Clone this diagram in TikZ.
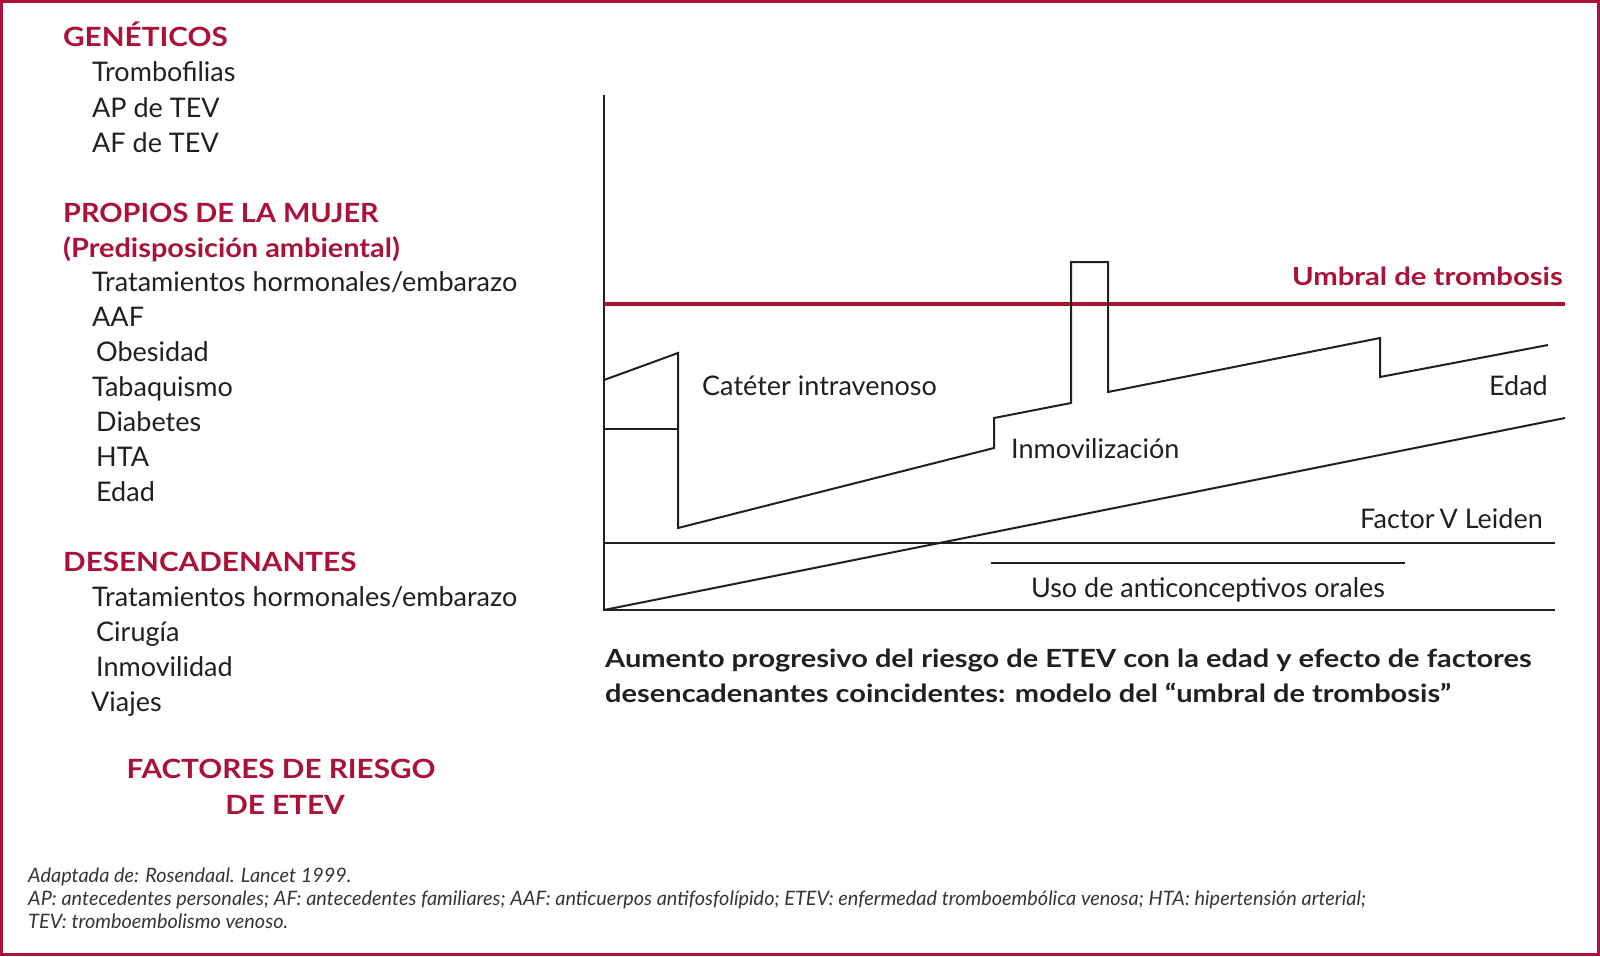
\documentclass[tikz,border=0pt]{standalone}
\usepackage{fontspec}
\setmainfont{Lato}
\newfontfamily\headfam{Lato}[FakeStretch=1.12]
\newfontfamily\headfamb{Lato}[FakeStretch=1.09]
\newfontfamily\umbfam{Lato}[FakeStretch=1.17]
\newfontfamily\capfam{Lato}[FakeStretch=1.16]
\definecolor{crim}{RGB}{170,18,58}
\definecolor{ink}{RGB}{35,31,32}
\definecolor{footink}{RGB}{55,52,53}
\newcommand\myitemfont{\fontsize{27}{32}\selectfont}
\newcommand\myheadfont{\headfam\fontsize{26.5}{32}\selectfont\bfseries}
\newcommand\myheadfontb{\headfamb\fontsize{26.5}{32}\selectfont\bfseries}
\newcommand\mycapfont{\capfam\fontsize{25}{30}\selectfont\bfseries}
\newcommand\myfootfont{\fontsize{19.9}{23}\selectfont\itshape}
\tikzset{
  item/.style={anchor=base west, inner sep=0pt, font=\myitemfont, text=ink},
  head/.style={anchor=base west, inner sep=0pt, font=\myheadfont, text=crim},
  headb/.style={anchor=base west, inner sep=0pt, font=\myheadfontb, text=crim},
  title/.style={anchor=base, inner sep=0pt, font=\myheadfont, text=crim},
  caption/.style={anchor=base west, inner sep=0pt, font=\mycapfont, text=ink},
  foot/.style={anchor=base west, inner sep=0pt, font=\myfootfont, text=footink},
  curve/.style={draw=ink, line width=2pt, line join=miter},
  thresh/.style={draw=crim, line width=3.2pt},
  frame/.style={draw=crim, line width=3.3pt}
}
\begin{document}
\begin{tikzpicture}[x=1pt,y=-1pt]
\useasboundingbox (0,0) rectangle (1600,956);
\draw[frame] (1.7,1.7) rectangle (1598.3,954.3);

% left column
\node[head] (gen) at (63,46) {GENÉTICOS};
\node[item] (g1) at (92,81) {Trombofilias};
\node[item] (g2) at (92,117) {AP de TEV};
\node[item] (g3) at (92,152) {AF de TEV};

\node[headb] (prop) at (63,222) {PROPIOS DE LA MUJER};
\node[headb] (prop2) at (63,257) {(Predisposición ambiental)};
\node[item] (p1) at (92,291) {Tratamientos hormonales/embarazo};
\node[item] (p2) at (92,326) {AAF};
\node[item] (p3) at (96,361) {Obesidad};
\node[item] (p4) at (92,396) {Tabaquismo};
\node[item] (p5) at (96,431) {Diabetes};
\node[item] (p6) at (96,466) {HTA};
\node[item] (p7) at (96,501) {Edad};

\node[head] (des) at (63,571) {DESENCADENANTES};
\node[item] (d1) at (92,606) {Tratamientos hormonales/embarazo};
\node[item] (d2) at (96,641) {Cirugía};
\node[item] (d3) at (96,676) {Inmovilidad};
\node[item] (d4) at (91,711) {Viajes};

\node[title] (fac1) at (281,778) {FACTORES DE RIESGO};
\node[title] (fac2) at (285,814) {DE ETEV};

% chart
\coordinate (top) at (604,95);
\coordinate (orig) at (604,610);
\coordinate (xend) at (1555,610);
\draw[curve] (top) -- (orig) -- (xend);

\coordinate (t0) at (604,304);
\coordinate (t1) at (1565,304);
\draw[thresh] (t0) -- (t1);

\coordinate (fv0) at (604,543);
\coordinate (fv1) at (1555,543);
\draw[curve] (fv0) -- (fv1);

\coordinate (oc0) at (991,563);
\coordinate (oc1) at (1405,563);
\draw[curve] (oc0) -- (oc1);

\coordinate (age1) at (1565,418);
\draw[curve] (orig) -- (age1);

\coordinate (c0) at (604,380);
\coordinate (c1) at (678,353);
\coordinate (c2) at (678,528);
\coordinate (c3) at (994,448);
\coordinate (c4) at (994,418);
\coordinate (c5) at (1071,403);
\coordinate (c6) at (1071,262);
\coordinate (c7) at (1108,262);
\coordinate (c8) at (1108,392);
\coordinate (c9) at (1380,338);
\coordinate (c10) at (1380,377);
\coordinate (c11) at (1548,345);
\draw[curve] (c0) -- (c1) -- (c2) -- (c3) -- (c4) -- (c5) -- (c6) -- (c7) -- (c8) -- (c9) -- (c10) -- (c11);
\coordinate (ch0) at (604,429);
\coordinate (ch1) at (678,429);
\draw[curve] (ch0) -- (ch1);

\node[anchor=base east, inner sep=0pt, font=\umbfam\fontsize{25}{30}\selectfont\bfseries, text=crim] (umb) at (1563,285) {Umbral de trombosis};
\node[item] (cat) at (702,395) {Catéter intravenoso};
\node[item] (inm) at (1011,458) {Inmovilización};
\node[item, anchor=base east] (edad) at (1548,395) {Edad};
\node[item, anchor=base east] (fvl) at (1543,528) {Factor\kern-2pt\ V Leiden};
\node[item, anchor=base] (uso) at (1208,597) {Uso de anticonceptivos orales};

% caption
\node[caption] (cap1) at (605,667) {Aumento progresivo del riesgo de ETEV con la edad y efecto de factores};
\node[caption] (cap2) at (605,702) {desencadenantes coincidentes: modelo del “umbral de trombosis”};

% footnote
\node[foot] (f1) at (28,882) {Adaptada de: Rosendaal. Lancet 1999.};
\node[foot] (f2) at (28,905) {AP: antecedentes personales; AF: antecedentes familiares; AAF: anticuerpos antifosfolípido; ETEV: enfermedad tromboembólica venosa; HTA: hipertensión arterial;};
\node[foot] (f3) at (28,928) {TEV: tromboembolismo venoso.};
\end{tikzpicture}
\end{document}
